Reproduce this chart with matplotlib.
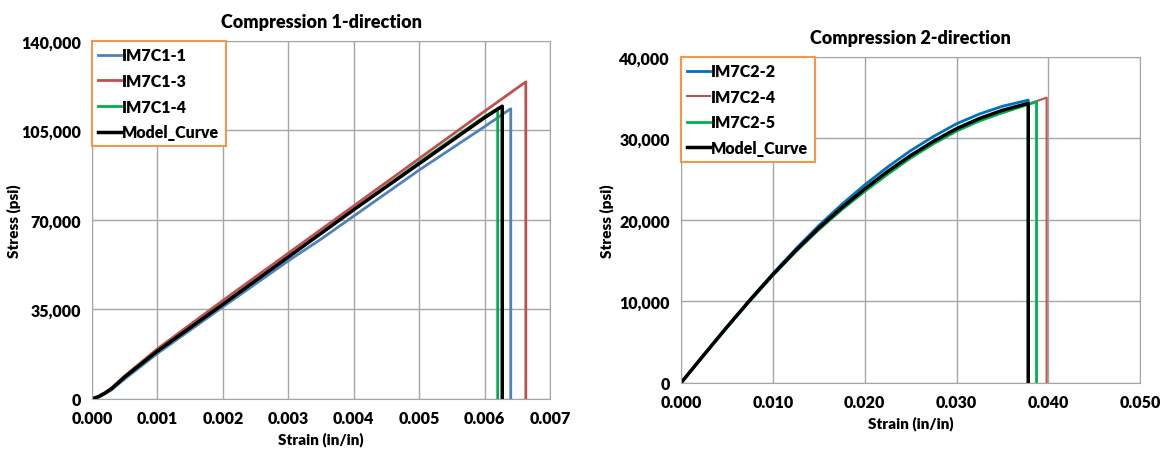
import matplotlib
matplotlib.use("Agg")
from matplotlib import pyplot as plt
from matplotlib.ticker import FuncFormatter

plt.rcParams['font.family'] = ['Lato', 'DejaVu Sans']
plt.rcParams['font.weight'] = 'heavy'

# Compression 1-direction: strain (in/in) and stress (psi)
c1_1_strain = [0, 0.0001, 0.0002, 0.0003, 0.0005, 0.001, 0.002, 0.003, 0.0035, 0.004, 0.0045, 0.005, 0.006, 0.0064, 0.0064]
c1_1_stress = [0, 700, 2000, 3600, 7800, 17800, 36000, 54000, 62500, 71500, 80500, 89500, 106500, 113500, 0]
c1_3_strain = [0, 0.0001, 0.0002, 0.0003, 0.0005, 0.001, 0.002, 0.003, 0.004, 0.005, 0.006, 0.00663, 0.00663]
c1_3_stress = [0, 1000, 2500, 4300, 9000, 19600, 38500, 57000, 75500, 94000, 112500, 124000, 0]
c1_4_strain = [0, 0.0001, 0.0002, 0.0003, 0.0005, 0.001, 0.002, 0.003, 0.004, 0.005, 0.006, 0.0062, 0.0062]
c1_4_stress = [0, 800, 2200, 3900, 8400, 18500, 37000, 55500, 74000, 92500, 110500, 113500, 0]
c1_model_strain = [0, 0.0001, 0.0002, 0.0003, 0.0005, 0.001, 0.002, 0.003, 0.004, 0.005, 0.006, 0.00627, 0.00627]
c1_model_stress = [0, 900, 2300, 4000, 8600, 18700, 37000, 55500, 74000, 92000, 110000, 114500, 0]

# Compression 2-direction
c2_strain = [0, 0.0025, 0.005, 0.0075, 0.010, 0.0125, 0.015, 0.0175, 0.020,
             0.0225, 0.025, 0.0275, 0.030, 0.0325, 0.035]
c2_2_stress = [0, 3450, 6850, 10200, 13400, 16450, 19300, 21900, 24300,
               26500, 28500, 30250, 31800, 33000, 33950]
c2_4_stress = [0, 3400, 6800, 10050, 13200, 16100, 18900, 21350, 23600,
               25750, 27700, 29450, 31000, 32250, 33250]
c2_5_stress = [0, 3400, 6800, 10050, 13200, 16100, 18800, 21250, 23500,
               25600, 27600, 29350, 30900, 32150, 33150]
c2_model_stress = [0, 3450, 6850, 10150, 13300, 16250, 19000, 21500, 23800,
                   25950, 27900, 29650, 31200, 32450, 33450]
# failure points (strain, peak stress)
c2_2_end = (0.0378, 34700)
c2_4_end = [(0.0380, 34300), (0.0398, 35000)]
c2_5_end = (0.0387, 34500)
c2_model_end = (0.0378, 34300)

blue = '#4f81bd'
blue2 = '#0070c0'
red = '#c0504d'
green = '#00b050'
orange = '#f79646'
grid_col = '#a6a6a6'

fig = plt.figure(figsize=(11.72, 4.56), dpi=100)
ax1 = fig.add_axes([0.0785, 0.123, 0.3908, 0.785])
ax2 = fig.add_axes([0.581, 0.158, 0.392, 0.715])

comma = FuncFormatter(lambda v, p: f"{v:,.0f}")


# Close a curve with its failure drop to zero
def with_drop(strain, stress, ends):
    xs = list(strain) + [e[0] for e in ends] + [ends[-1][0]]
    ys = list(stress) + [e[1] for e in ends] + [0]
    return xs, ys


# Excel-like look for one chart
def style(ax, title, xmax, xstep, ymax, ystep, fmt):
    ax.set_xlim(0, xmax)
    ax.set_ylim(0, ymax)
    ax.set_xticks([i * xstep for i in range(round(xmax / xstep) + 1)])
    ax.set_yticks([i * ystep for i in range(round(ymax / ystep) + 1)])
    ax.xaxis.set_major_formatter(FuncFormatter(lambda v, p: format(v, fmt)))
    ax.yaxis.set_major_formatter(comma)
    ax.grid(True, color=grid_col, linewidth=1)
    ax.set_axisbelow(True)
    for s in ax.spines.values():
        s.set_color(grid_col)
    ax.tick_params(length=0, labelsize=11.5, pad=8)
    ax.set_title(title, fontsize=13, fontweight='heavy', pad=10)
    ax.set_xlabel('Strain (in/in)', fontsize=11, fontweight='heavy')
    ax.set_ylabel('Stress (psi)', fontsize=11, fontweight='heavy')
    leg = ax.legend(loc='upper left', handlelength=1.4, handletextpad=0.1,
                    borderaxespad=0, fancybox=False, fontsize=11.5,
                    labelspacing=0.6, borderpad=0.4)
    leg.get_frame().set_edgecolor(orange)
    leg.get_frame().set_linewidth(1.5)
    leg.get_frame().set_alpha(1)


ax1.plot(c1_1_strain, c1_1_stress, color=blue, lw=2, label='IM7C1-1')
ax1.plot(c1_3_strain, c1_3_stress, color=red, lw=2, label='IM7C1-3')
ax1.plot(c1_4_strain, c1_4_stress, color=green, lw=2, label='IM7C1-4')
ax1.plot(c1_model_strain, c1_model_stress, color='black', lw=2.5, label='Model_Curve')
style(ax1, 'Compression 1-direction', 0.007, 0.001, 140000, 35000, '.3f')
ax1.yaxis.labelpad = 0

ax2.plot(*with_drop(c2_strain, c2_2_stress, [c2_2_end]), color=blue2, lw=2, label='IM7C2-2')
ax2.plot(*with_drop(c2_strain, c2_4_stress, c2_4_end), color=red, lw=1.5, label='IM7C2-4')
ax2.plot(*with_drop(c2_strain, c2_5_stress, [c2_5_end]), color=green, lw=2, label='IM7C2-5')
ax2.plot(*with_drop(c2_strain, c2_model_stress, [c2_model_end]), color='black', lw=2.5, label='Model_Curve')
style(ax2, 'Compression 2-direction', 0.05, 0.01, 40000, 10000, '.3f')

fig.savefig('out.png', dpi=100)
